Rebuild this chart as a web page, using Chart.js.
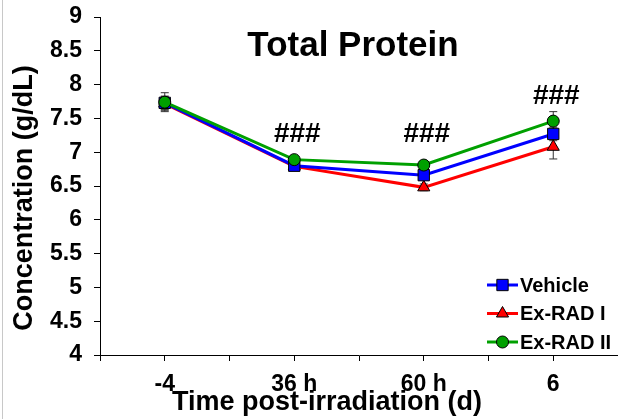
<!DOCTYPE html>
<html>
<head>
<meta charset="utf-8">
<script src="https://cdn.jsdelivr.net/npm/chart.js@4.4.1/dist/chart.umd.min.js"></script>
<style>
  body { margin: 0; background: #fff; }
  #wrap { position: relative; width: 618px; height: 419px; }
  #edge { position: absolute; left: 2px; top: 0; width: 1px; height: 419px; background: #c8c8c8; }
</style>
</head>
<body>
<div id="wrap">
  <canvas id="myChart"></canvas>
  <div id="edge"></div>
</div>
<script>
// time points
var categories = ['-4', '36 h', '60 h', '6'];

// mean total protein (g/dL)
var vehicle = [7.73, 6.80, 6.66, 7.27];
var exRad1  = [7.72, 6.79, 6.48, 7.08];
var exRad2  = [7.74, 6.89, 6.81, 7.46];

// SEM
var vehicleErr = [0.10, 0.05, 0.05, 0.10];
var exRad1Err  = [0.10, 0.05, 0.05, 0.18];
var exRad2Err  = [0.14, 0.05, 0.05, 0.14];

// significance marks
var marks     = ['', '###', '###', '###'];
var markLevel = [null, 7.265, 7.265, 7.83];

var yTicks = [4, 4.5, 5, 5.5, 6, 6.5, 7, 7.5, 8, 8.5, 9];

function toPoints(arr) {
  return arr.map(function (v, i) { return { x: 2 * i + 1, y: v }; });
}

var fontFam = '"Liberation Sans", Arial, sans-serif';

var errorBars = {
  id: 'errorBars',
  beforeDatasetsDraw: function (chart) {
    var ctx = chart.ctx, xs = chart.scales.x, ys = chart.scales.y;
    ctx.save();
    ctx.strokeStyle = '#333';
    ctx.lineWidth = 1;
    chart.data.datasets.forEach(function (ds) {
      ds.data.forEach(function (p, i) {
        var e = ds.errors[i];
        var x = xs.getPixelForValue(p.x);
        var y1 = ys.getPixelForValue(p.y + e), y2 = ys.getPixelForValue(p.y - e);
        ctx.beginPath();
        ctx.moveTo(x, y1); ctx.lineTo(x, y2);
        ctx.moveTo(x - 4, y1); ctx.lineTo(x + 4, y1);
        ctx.moveTo(x - 4, y2); ctx.lineTo(x + 4, y2);
        ctx.stroke();
      });
    });
    ctx.restore();
  }
};

var extras = {
  id: 'extras',
  afterDraw: function (chart) {
    var ctx = chart.ctx, xs = chart.scales.x, ys = chart.scales.y, a = chart.chartArea;
    ctx.save();
    ctx.fillStyle = '#000';
    ctx.textAlign = 'center';
    ctx.textBaseline = 'middle';
    // title
    ctx.font = 'bold 35px ' + fontFam;
    ctx.fillText('Total Protein', a.left + 253, a.top + 29);
    // axis titles
    ctx.font = 'bold 27px ' + fontFam;
    ctx.fillText('Time post-irradiation (d)', 327, 403);
    ctx.save();
    ctx.translate(25, 198);
    ctx.rotate(-Math.PI / 2);
    ctx.fillText('Concentration (g/dL)', 0, 0);
    ctx.restore();
    // ### marks
    ctx.font = 'bold 28px ' + fontFam;
    marks.forEach(function (m, i) {
      if (!m) return;
      ctx.fillText(m, xs.getPixelForValue(2 * i + 1) + 3, ys.getPixelForValue(markLevel[i]));
    });
    // legend
    ctx.font = 'bold 20px ' + fontFam;
    ctx.textAlign = 'left';
    var lx = a.right - 131;
    chart.data.datasets.forEach(function (ds, i) {
      var ly = a.bottom - 70 + i * 28.5;
      ctx.strokeStyle = ds.borderColor;
      ctx.lineWidth = 3;
      ctx.beginPath();
      ctx.moveTo(lx, ly); ctx.lineTo(lx + 31, ly);
      ctx.stroke();
      ctx.fillStyle = ds.pointBackgroundColor;
      ctx.strokeStyle = '#000';
      ctx.lineWidth = 1;
      Chart.helpers.drawPoint(ctx, {
        pointStyle: ds.pointStyle, radius: ds.pointRadius, borderWidth: 1
      }, lx + 15.5, ly);
      ctx.fillStyle = '#000';
      ctx.fillText(ds.label, lx + 33, ly + 1);
    });
    ctx.restore();
  }
};

function makeSet(label, data, errs, color, style, radius, order) {
  return {
    label: label,
    data: toPoints(data),
    errors: errs,
    borderColor: color,
    borderWidth: 3,
    pointStyle: style,
    pointRadius: radius,
    pointBackgroundColor: color,
    pointBorderColor: '#000',
    pointBorderWidth: 1,
    order: order
  };
}

var ctx = document.getElementById('myChart').getContext('2d');
var myChart = new Chart(ctx, {
  type: 'line',
  data: {
    datasets: [
      makeSet('Vehicle', vehicle, vehicleErr, '#0000ff', 'rect', 8, 1),
      makeSet('Ex-RAD I', exRad1, exRad1Err, '#ff0000', 'triangle', 7, 2),
      makeSet('Ex-RAD II', exRad2, exRad2Err, '#00a000', 'circle', 6, 0)
    ]
  },
  options: {
    responsive: true,
    maintainAspectRatio: false,
    animation: false,
    layout: { autoPadding: false, padding: { top: 17, right: 0, left: 0, bottom: 0 } },
    plugins: { legend: { display: false }, tooltip: { enabled: false } },
    scales: {
      x: {
        type: 'linear',
        min: 0,
        max: 2 * categories.length,
        afterFit: function (s) {
          s.height = 64;
          s.paddingLeft = 0; s.paddingRight = 0;
        },
        afterBuildTicks: function (s) {
          s.ticks = [];
          for (var v = 0; v <= 2 * categories.length; v++) s.ticks.push({ value: v });
        },
        ticks: {
          autoSkip: false,
          maxRotation: 0,
          padding: 10,
          color: '#000',
          font: { family: fontFam, size: 23, weight: 'bold' },
          callback: function (v) { return v % 2 === 1 ? categories[(v - 1) / 2] : ''; }
        },
        grid: { drawOnChartArea: false, drawTicks: true, tickLength: 6, color: '#000' },
        border: { color: '#000', width: 1 }
      },
      y: {
        min: 4,
        max: 9,
        afterFit: function (s) {
          s.width = 100;
          s.paddingTop = 0; s.paddingBottom = 0;
        },
        afterBuildTicks: function (s) {
          s.ticks = yTicks.map(function (v) { return { value: v }; });
        },
        ticks: {
          padding: 12,
          color: '#000',
          font: { family: fontFam, size: 23, weight: 'bold' },
          callback: function (v) { return String(v); }
        },
        grid: { drawOnChartArea: false, drawTicks: true, tickLength: 6, color: '#000' },
        border: { color: '#000', width: 1 }
      }
    }
  },
  plugins: [errorBars, extras]
});
</script>
</body>
</html>
